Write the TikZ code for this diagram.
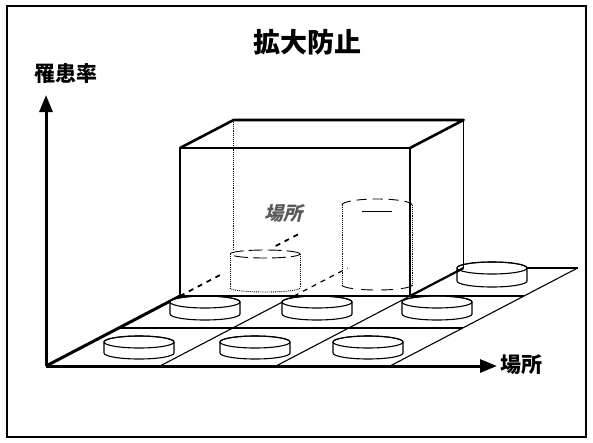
\documentclass[tikz,border=0pt]{standalone}
\usepackage{fontspec}
\newfontfamily\cjk{Noto Sans CJK JP}
\newfontfamily\cjkghost{Noto Sans CJK JP}[FakeSlant=0.25]
\usetikzlibrary{arrows.meta}
\newcommand\mydisc[3]{%
  \draw[thinline, fill=white] (#1-35,#2) -- (#1-35,#2+#3)
    arc[start angle=180, end angle=360, x radius=35pt, y radius=6pt]
    -- (#1+35,#2)
    arc[start angle=0, end angle=180, x radius=35pt, y radius=6pt] -- cycle;
  \draw[thinline] (#1,#2) ellipse[x radius=35pt, y radius=6pt];}
\begin{document}
\begin{tikzpicture}[x=1pt,y=-1pt,
  thinline/.style={line width=1.1pt},
  thickline/.style={line width=2.6pt, line join=round},
  axis/.style={line width=3pt,-{Triangle[length=17pt,width=13pt]}},
  hidden/.style={line width=0.9pt, densely dotted},
  hiddendash/.style={line width=1.8pt, dash pattern=on 5pt off 5pt},
  lbl/.style={font=\cjk\bfseries\fontsize{21}{21}\selectfont, inner sep=0pt},
]
\fill[white] (0,0) rectangle (593,442);
\useasboundingbox (0,0) rectangle (593,442);
\draw[line width=2pt] (7,6) rectangle (586,437);

% labels
\node[lbl, font=\cjk\bfseries\fontsize{27}{27}\selectfont] (title) at (307,42) {拡大防止};
\node[lbl] (ylabel) at (66,74) {罹患率};
\node[lbl, anchor=west] (xlabel) at (500,365) {場所};
\node[font=\cjkghost\bfseries\fontsize{19}{19}\selectfont, text=black!65, inner sep=0pt] (ghost) at (283,213) {場所};

% coordinates
\coordinate (O) at (46,366);
\coordinate (Ytip) at (46,95);
\coordinate (Xtip) at (497,366);
\coordinate (b1) at (160,366);
\coordinate (b2) at (276,366);
\coordinate (b3) at (390,366);
\coordinate (r1) at (118.7,328);
\coordinate (r4) at (462.7,328);
\coordinate (L296) at (180,296);
\coordinate (m2) at (294,296);
\coordinate (m3) at (410,296);
\coordinate (m4) at (524,296);
\coordinate (t2) at (347.6,268);
\coordinate (t3) at (463.6,268);
\coordinate (t4) at (577.6,268);
\coordinate (h1) at (222,274);
\coordinate (h2) at (275.7,246);
\coordinate (h3) at (300.6,233);
\coordinate (F1) at (180,148);
\coordinate (F2) at (410,148);
\coordinate (B1) at (233.6,120);
\coordinate (B2) at (463.6,120);
\coordinate (B1d) at (233.6,250);

% floor
\draw[thinline] (b1) -- (m2);
\draw[thinline] (b2) -- (m3);
\draw[thinline] (b3) -- (t4);
\draw[thinline] (r1) -- (r4);
\draw[thinline] (m3) -- (m4);
\draw[thinline] (t3) -- (t4);
\draw[line width=3pt] (O) -- (L296);
\draw[hiddendash] (L296) -- (h1);
\draw[hiddendash] (h2) -- (h3);
\draw[hiddendash, line width=1.2pt] (m2) -- (t2);

% hidden cylinders inside the box
\draw[hidden] (230,254) -- (230,288);
\draw[hidden] (300,254) -- (300,288);
\draw[hidden] (230,288) arc[start angle=180, end angle=360, x radius=35pt, y radius=4pt];
\draw[line width=0.9pt, dash pattern=on 14pt off 5pt] (265,254) ellipse[x radius=35pt, y radius=4pt];
\draw[hidden] (342,205) -- (342,285);
\draw[hidden] (412,205) -- (412,285);
\draw[line width=0.9pt, dash pattern=on 10pt off 6pt] (342,205) arc[start angle=180, end angle=0, x radius=35pt, y radius=6pt];
\draw[line width=0.9pt] (362,211.3) -- (392,211.3);
\draw[line width=0.9pt, dash pattern=on 12pt off 8pt] (342,285) arc[start angle=180, end angle=360, x radius=35pt, y radius=5pt];
\draw[hidden] (B1) -- (B1d);

% discs
\mydisc{139}{342}{11}
\mydisc{255}{342}{11}
\mydisc{368}{342}{11}
\mydisc{205}{302}{12}
\mydisc{317}{302}{12}
\mydisc{437}{302}{12}
\mydisc{492}{268}{13}

% box
\draw[thickline] (L296) -- (F1) -- (F2) -- (m3);
\draw[thickline] (L296) -- (m3);
\draw[thickline] (F1) -- (B1) -- (B2) -- (F2);
\draw[line width=1.5pt] (B2) -- (t3);
\draw[line width=2.2pt] (m3) -- (t3);

% axes
\draw[axis] (O) -- (Ytip);
\draw[axis] (O) -- (Xtip);
\end{tikzpicture}
\end{document}
